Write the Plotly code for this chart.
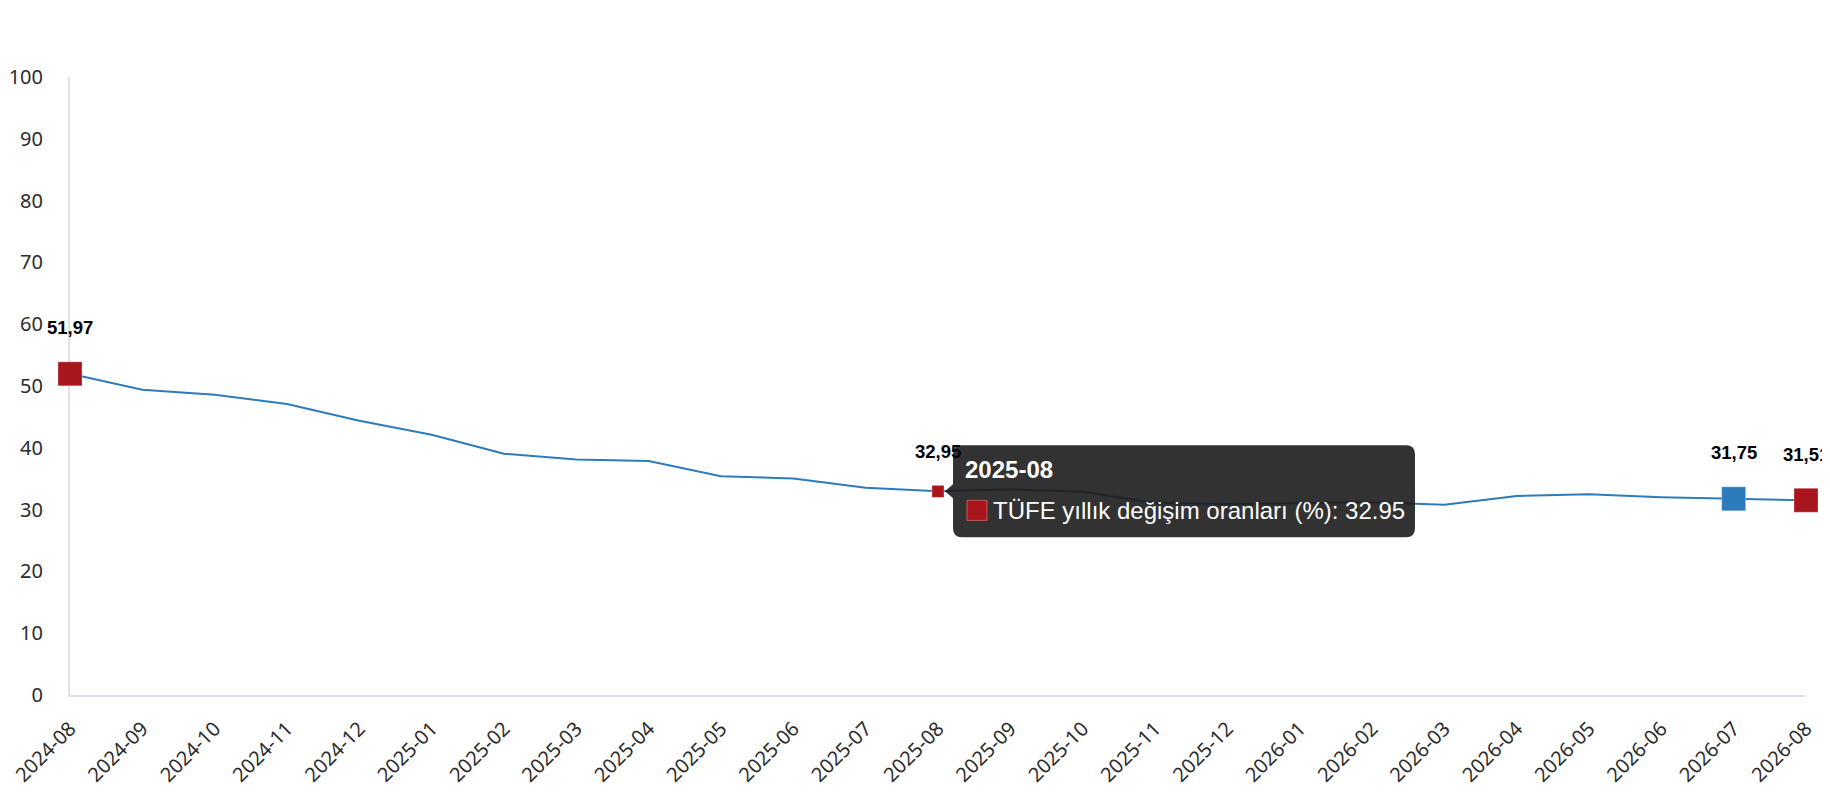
import plotly.graph_objects as go

# TÜFE yıllık değişim oranları (%), monthly
months = [
    "2024-08", "2024-09", "2024-10", "2024-11", "2024-12",
    "2025-01", "2025-02", "2025-03", "2025-04", "2025-05", "2025-06",
    "2025-07", "2025-08", "2025-09", "2025-10", "2025-11", "2025-12",
    "2026-01", "2026-02", "2026-03", "2026-04", "2026-05", "2026-06",
    "2026-07", "2026-08",
]
values = [
    51.97, 49.38, 48.58, 47.09, 44.38,
    42.12, 39.05, 38.10, 37.86, 35.41, 35.05,
    33.52, 32.95, 33.29, 32.87, 31.07, 30.89,
    31.00, 31.20, 30.80, 32.20, 32.50, 32.00,
    31.75, 31.51,
]
series_name = "TÜFE yıllık değişim oranları (%)"

# highlighted points (index, colour, marker size)
highlights = [(0, "#a8151c", 24), (12, "#a8151c", 12), (23, "#2e7bbb", 24), (24, "#a8151c", 24)]
hover_idx = 12  # point whose tooltip is shown

LINE = "#2e7bbb"
AXIS = "#dde2ea"
TICK_FONT = dict(family="Noto Sans", size=20, color="#2b2b2b")

fig = go.Figure()

fig.add_trace(go.Scatter(
    x=months, y=values, mode="lines",
    line=dict(color=LINE, width=2),
    name=series_name, hoverinfo="skip",
))

fig.add_trace(go.Scatter(
    x=[months[i] for i, _, _ in highlights],
    y=[values[i] for i, _, _ in highlights],
    mode="markers",
    marker=dict(symbol="square", opacity=1,
                color=[c for _, c, _ in highlights],
                size=[s for _, _, s in highlights],
                line=dict(color="rgba(255,255,255,0.3)", width=1)),
    cliponaxis=False, name=series_name,
))

annotations = []
for i, c, s in highlights:
    annotations.append(dict(
        x=months[i], y=values[i], xref="x", yref="y",
        text="<b>" + f"{values[i]:.2f}".replace(".", ",") + "</b>",
        showarrow=False, yanchor="middle", yshift=s / 2 + 34,
        font=dict(family="Liberation Sans", size=18.5, color="#000000"),
    ))

# tooltip text
annotations.append(dict(
    x=months[hover_idx], y=values[hover_idx], xref="x", yref="y",
    text=f"<b>{months[hover_idx]}</b>", showarrow=False,
    xanchor="left", yanchor="middle", xshift=25, yshift=22,
    font=dict(family="Liberation Sans", size=24, color="#ffffff"),
))
annotations.append(dict(
    x=months[hover_idx], y=values[hover_idx], xref="x", yref="y",
    text=f"{series_name}: {values[hover_idx]}", showarrow=False,
    xanchor="left", yanchor="middle", xshift=53, yshift=-19,
    font=dict(family="Liberation Sans", size=24, color="#ffffff"),
))

# tooltip box (rounded, with pointer) positioned in pixels from the hovered point
box_path = ("M 24,46 L 468,46 Q 477,46 477,37 L 477,-37 Q 477,-46 468,-46 "
            "L 24,-46 Q 15,-46 15,-37 L 15,-7 L 7,0 L 15,7 L 15,37 Q 15,46 24,46 Z")
shapes = [
    dict(type="path", path=box_path, xref="x", yref="y",
         xsizemode="pixel", ysizemode="pixel",
         xanchor=hover_idx, yanchor=values[hover_idx],
         fillcolor="rgba(28,28,28,0.9)", line=dict(width=0)),
    dict(type="rect", xref="x", yref="y",
         xsizemode="pixel", ysizemode="pixel",
         xanchor=hover_idx, yanchor=values[hover_idx],
         x0=29, x1=49, y0=-9, y1=-29,
         fillcolor="#a8151c", line=dict(color="#c8585c", width=1)),
]

# the page body adds an 8px offset, so margins are trimmed by that amount
fig.update_layout(
    width=1830, height=800,
    margin=dict(l=62, r=32, t=69, b=113),
    paper_bgcolor="#ffffff", plot_bgcolor="#ffffff",
    showlegend=False,
    annotations=annotations,
    shapes=shapes,
    xaxis=dict(
        type="category", range=[0, len(months) - 1],
        showgrid=False, zeroline=False, automargin=False,
        showline=True, linecolor=AXIS, linewidth=2, layer="below traces",
        ticks="", tickangle=-45, tickfont=TICK_FONT,
        ticklabelstandoff=12,
    ),
    yaxis=dict(
        range=[0, 100], dtick=10, automargin=False,
        showgrid=False, zeroline=False,
        showline=True, linecolor=AXIS, linewidth=2, layer="below traces",
        ticks="", tickfont=TICK_FONT, ticklabelstandoff=21,
    ),
)

fig.write_html("out.html")
